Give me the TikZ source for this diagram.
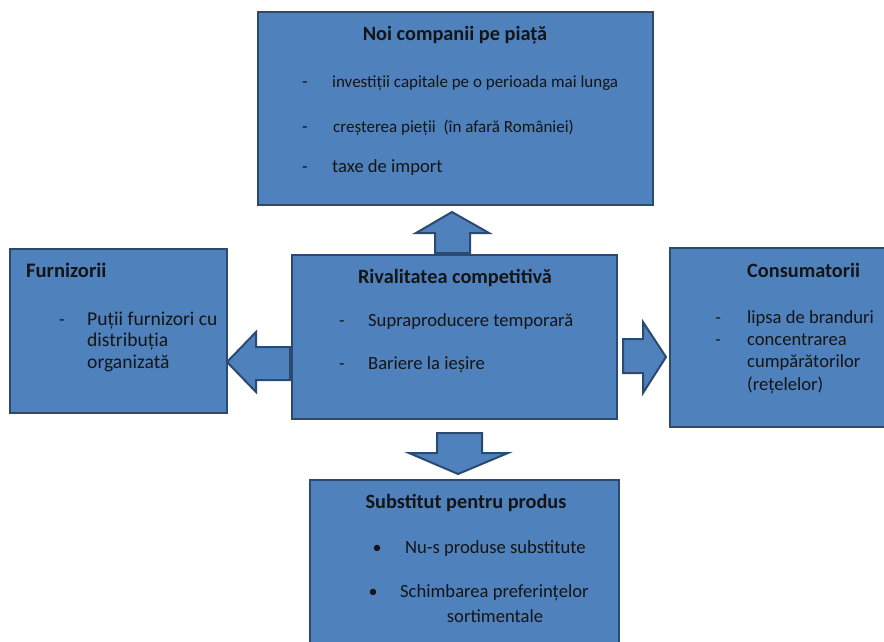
\documentclass[tikz,border=0pt]{standalone}
\usepackage{fontspec}
\setmainfont{Carlito}
\definecolor{boxfill}{HTML}{4F81BD}
\definecolor{boxline}{HTML}{2A4A72}
\definecolor{txt}{HTML}{151515}
\begin{document}
\begin{tikzpicture}[x=1pt,y=-1pt,
  box/.style={draw=boxline,line width=2.2pt,fill=boxfill,rectangle,inner sep=0pt},
  blockarrow/.style={draw=boxline,line width=2pt,fill=boxfill,line join=miter},
  ttl/.style={anchor=base,inner sep=0pt,text=txt,font=\fontsize{#1}{#1}\selectfont\bfseries},
  ttl/.default=20.3,
  body/.style={anchor=base west,inner sep=0pt,text=txt,font=\fontsize{#1}{#1}\selectfont},
  body/.default=18.6,
  bodyc/.style={anchor=base,inner sep=0pt,text=txt,font=\fontsize{#1}{#1}\selectfont},
  bodyc/.default=18.6,
  dashm/.style={anchor=base,inner sep=0pt,text=txt,font=\fontsize{18}{18}\selectfont}]
\path[use as bounding box,clip] (0,0) rectangle (884,641);
\fill[white] (0,0) rectangle (884,641);
% boxes
\node[box,minimum width=395pt,minimum height=193pt] (top) at (455.5,108.5) {};
\node[box,minimum width=217pt,minimum height=164pt] (left) at (118.5,331) {};
\node[box,minimum width=325pt,minimum height=164pt] (mid) at (454.5,337) {};
\node[box,minimum width=230pt,minimum height=179pt] (right) at (785,337.5) {};
\node[box,minimum width=309pt,minimum height=185pt] (bot) at (464.5,572.5) {};
% block arrows
\draw[blockarrow] (452,212) -- (489,233) -- (470,233) -- (470,253) -- (435,253) -- (435,233) -- (416,233) -- cycle;
\draw[blockarrow] (227,362) -- (256,332) -- (256,347) -- (290,347) -- (290,380) -- (256,380) -- (256,392) -- cycle;
\draw[blockarrow] (666,357) -- (643,322) -- (643,339) -- (623,339) -- (623,373) -- (643,373) -- (643,393) -- cycle;
\draw[blockarrow] (458,474) -- (508,453) -- (482,453) -- (482,433) -- (437,433) -- (437,453) -- (409,453) -- cycle;
% top box text
\node[ttl] (toptitle) at (455,40) {Noi companii pe piață};
\node[dashm] (td1) at (305,87) {-};
\node[body=17] (tt1) at (332,87) {investiții capitale pe o perioada mai lunga};
\node[dashm] (td2) at (305,132) {-};
\node[body=17] (tt2) at (333,132) {creșterea pieții\ \ (în afară României)};
\node[dashm] (td3) at (305,172) {-};
\node[body] (tt3) at (332,172) {taxe de import};
% left box text
\node[ttl=20.6,anchor=base west] (lefttitle) at (26,277) {Furnizorii};
\node[dashm] (ld1) at (62,325) {-};
\node[body=19.6] (lt1) at (87,325) {Puții furnizori cu};
\node[body=19.6] (lt2) at (87,346.5) {distribuția};
\node[body=19.6] (lt3) at (87,368) {organizată};
% middle box text
\node[ttl] (midtitle) at (455,283) {Rivalitatea competitivă};
\node[dashm] (md1) at (342,326) {-};
\node[body] (mt1) at (368,326) {Supraproducere temporară};
\node[dashm] (md2) at (342,369) {-};
\node[body] (mt2) at (368,369) {Bariere la ieșire};
% right box text
\node[ttl,anchor=base west] (righttitle) at (747,277) {Consumatorii};
\node[dashm] (rd1) at (718,323) {-};
\node[body] (rt1) at (747,323) {lipsa de branduri};
\node[dashm] (rd2) at (718,345) {-};
\node[body] (rt2) at (747,345) {concentrarea};
\node[body] (rt3) at (747,367.5) {cumpărătorilor};
\node[body] (rt4) at (747,390) {(rețelelor)};
% bottom box text
\node[ttl] (bottitle) at (466,508) {Substitut pentru produs};
\node[dashm] (bd1) at (377,553) {•};
\node[body] (bt1) at (405,553) {Nu-s produse substitute};
\node[dashm] (bd2) at (373,597) {•};
\node[body] (bt2) at (400,597) {Schimbarea preferințelor};
\node[bodyc] (bt3) at (495,622) {sortimentale};
\end{tikzpicture}
\end{document}
